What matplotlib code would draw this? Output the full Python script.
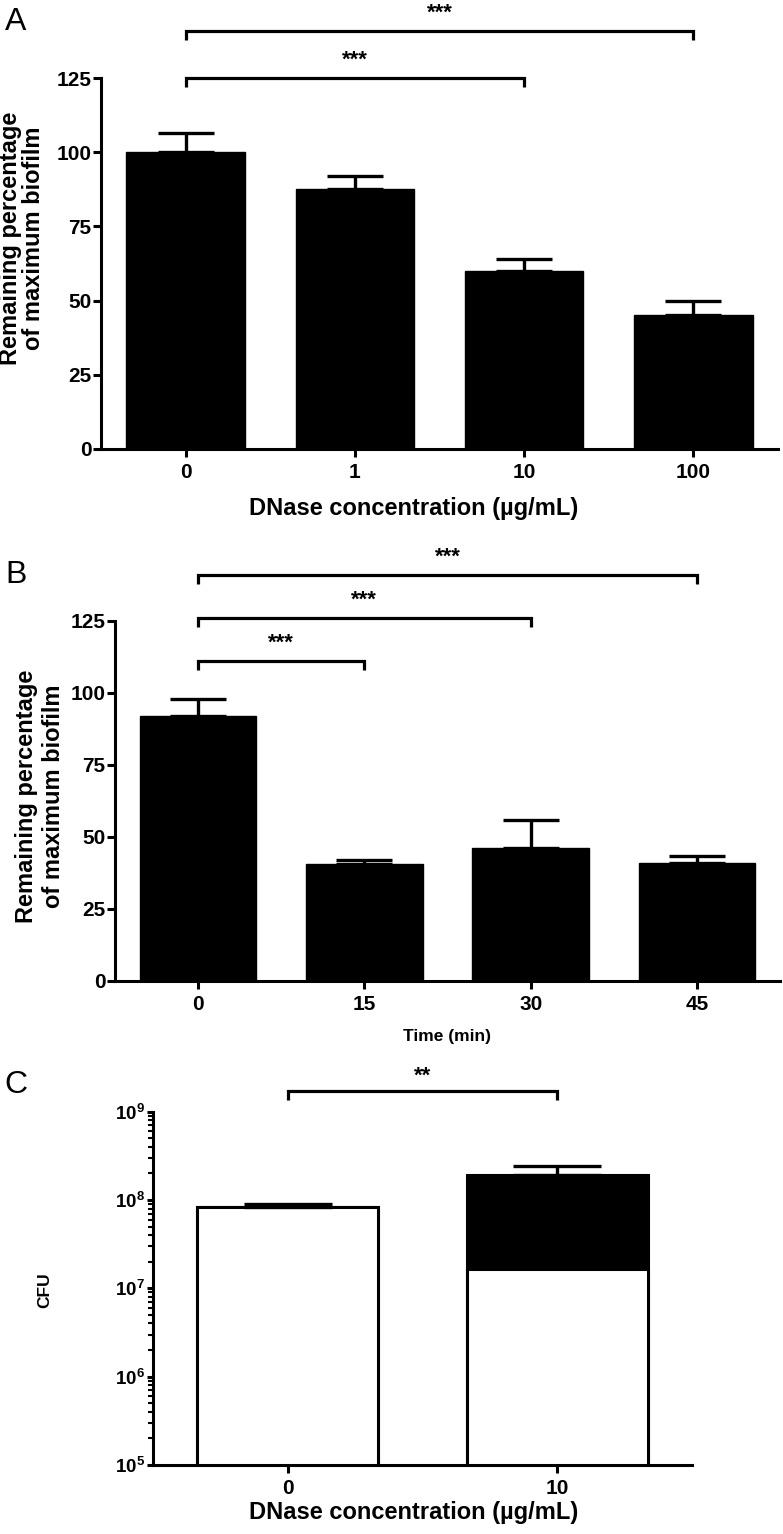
import math
import matplotlib
matplotlib.use('Agg')
import matplotlib.pyplot as plt
from matplotlib.lines import Line2D
from matplotlib.transforms import IdentityTransform
from matplotlib.ticker import FixedLocator, LogLocator, FuncFormatter, NullFormatter

plt.rcParams['font.family'] = ['Liberation Sans', 'DejaVu Sans']
plt.rcParams['font.weight'] = 'bold'
plt.rcParams['mathtext.fontset'] = 'custom'
plt.rcParams['mathtext.rm'] = 'Liberation Sans:bold'
plt.rcParams['mathtext.bf'] = 'Liberation Sans:bold'
plt.rcParams['mathtext.it'] = 'Liberation Sans:bold'

# Panel A: DNase dose
conc_labels = ['0', '1', '10', '100']
biofilm_conc = [100, 87.5, 60, 45]
biofilm_conc_sem = [6.5, 4.5, 4, 5]
sig_conc = [(0, 3, '***'), (0, 2, '***')]

# Panel B: treatment time
time_labels = ['0', '15', '30', '45']
biofilm_time = [92, 40.5, 46, 41]
biofilm_time_sem = [6, 1.5, 10, 2.5]
sig_time = [(0, 3, '***'), (0, 2, '***'), (0, 1, '***')]

# Panel C: CFU
cfu_labels = ['0', '10']
cfu_total = [8.3e7, 1.9e8]
cfu_total_sem = [0.65e7, 5.4e7]
cfu_white = [8.3e7, 1.65e7]
cfu_colors = ['white', 'black']
sig_cfu = [(0, 1, '**')]

W, H = 783, 1534
fig = plt.figure(figsize=(W / 100, H / 100), dpi=100)


def px_axes(left, top, right, bottom):
    return fig.add_axes([left / W, 1 - bottom / H, (right - left) / W, (bottom - top) / H])


def fx(x):
    return x / W


def fy(y):
    return 1 - y / H


def style_axes(ax):
    for s in ['top', 'right']:
        ax.spines[s].set_visible(False)
    for s in ['left', 'bottom']:
        ax.spines[s].set_linewidth(2.2)
    ax.tick_params(axis='both', which='major', direction='out', width=2.2, labelsize=15)
    ax.tick_params(axis='y', length=5.5, pad=1.5)
    ax.tick_params(axis='x', length=6, pad=4)


def bracket(ax, x1, x2, y, text, leg=9, gap=12):
    # significance bracket, drawn in pixel space above the axes
    (ax1, ay), (ax2, _) = ax.transData.transform([(x1, y), (x2, y)])
    ln = Line2D([ax1, ax1, ax2, ax2], [ay - leg, ay, ay, ay - leg], transform=IdentityTransform(),
                color='black', lw=2.3, solid_capstyle='butt', solid_joinstyle='miter')
    fig.add_artist(ln)
    fig.text((ax1 + ax2) / 2, ay + gap, text, transform=IdentityTransform(),
             ha='center', va='baseline', fontsize=16, fontweight='bold')


def bar_panel(ax, labels, vals, sem):
    x = range(len(vals))
    ax.bar(x, vals, width=0.7, color='black', edgecolor='black', linewidth=1, zorder=2)
    ax.errorbar(x, vals, yerr=[[0] * len(vals), sem], fmt='none', ecolor='black',
                elinewidth=2.4, capsize=20.5, capthick=2.4, zorder=3)
    ax.set_xlim(-0.5, 3.5)
    ax.set_ylim(0, 125)
    ax.set_yticks([0, 25, 50, 75, 100, 125])
    ax.set_xticks(list(x))
    ax.set_xticklabels(labels)
    style_axes(ax)


# ---- Panel A ----
axA = px_axes(101, 78, 778, 449)
bar_panel(axA, conc_labels, biofilm_conc, biofilm_conc_sem)
for (i, j, s), yb in zip(sig_conc, [141, 125]):
    bracket(axA, i, j, yb, s)
fig.text(fx(22), fy(238), 'Remaining percentage\nof maximum biofilm', rotation=90,
         ha='center', va='center', fontsize=17, fontweight='bold', linespacing=0.95)
fig.text(fx(414), fy(508), 'DNase concentration (µg/mL)', ha='center', va='center',
         fontsize=17, fontweight='bold')
fig.text(fx(16), fy(22), 'A', ha='center', va='center', fontsize=23, fontweight='normal')

# ---- Panel B ----
axB = px_axes(115, 620.7, 780, 981)
bar_panel(axB, time_labels, biofilm_time, biofilm_time_sem)
for (i, j, s), yb in zip(sig_time, [141, 126, 111]):
    bracket(axB, i, j, yb, s)
fig.text(fx(40), fy(796), 'Remaining percentage\nof maximum biofilm', rotation=90,
         ha='center', va='center', fontsize=17, fontweight='bold', linespacing=1.2)
fig.text(fx(447), fy(1037), 'Time (min)', ha='center', va='center',
         fontsize=12.5, fontweight='bold')
fig.text(fx(16), fy(575), 'B', ha='center', va='center', fontsize=23, fontweight='normal')

# ---- Panel C ----
axC = px_axes(153, 1111.7, 692, 1465)
axC.set_yscale('log')
xc = range(len(cfu_total))
axC.bar(xc, cfu_total, width=0.67, color=cfu_colors, edgecolor='black', linewidth=2.2, zorder=2)
axC.bar(xc, cfu_white, width=0.67, color='white', edgecolor='black', linewidth=2.2, zorder=2)
axC.errorbar(xc, cfu_total, yerr=[[0] * len(cfu_total), cfu_total_sem], fmt='none', ecolor='black',
             elinewidth=2.4, capsize=32, capthick=2.4, zorder=3)
axC.set_xlim(-0.5, 1.5)
axC.set_ylim(1e5, 1e9)
axC.set_xticks(list(xc))
axC.set_xticklabels(cfu_labels)
axC.yaxis.set_major_locator(FixedLocator([1e5, 1e6, 1e7, 1e8, 1e9]))
axC.yaxis.set_major_formatter(FuncFormatter(lambda v, p: r'$\mathbf{10^{%d}}$' % round(math.log10(v))))
axC.yaxis.set_minor_locator(LogLocator(base=10, subs=range(2, 10)))
axC.yaxis.set_minor_formatter(NullFormatter())
style_axes(axC)
axC.tick_params(axis='y', which='major', length=4.5, labelsize=13.5, pad=1.5)
axC.tick_params(axis='y', which='minor', length=3.5, width=1.5)
for (i, j, s) in sig_cfu:
    bracket(axC, i, j, 1.73e9, s, leg=9, gap=9)
fig.text(fx(45), fy(1290), 'CFU', rotation=90, ha='center', va='center',
         fontsize=12.5, fontweight='bold')
fig.text(fx(414), fy(1513), 'DNase concentration (µg/mL)', ha='center', va='center',
         fontsize=17, fontweight='bold')
fig.text(fx(16), fy(1085), 'C', ha='center', va='center', fontsize=23, fontweight='normal')

fig.savefig('out.png', dpi=100)
